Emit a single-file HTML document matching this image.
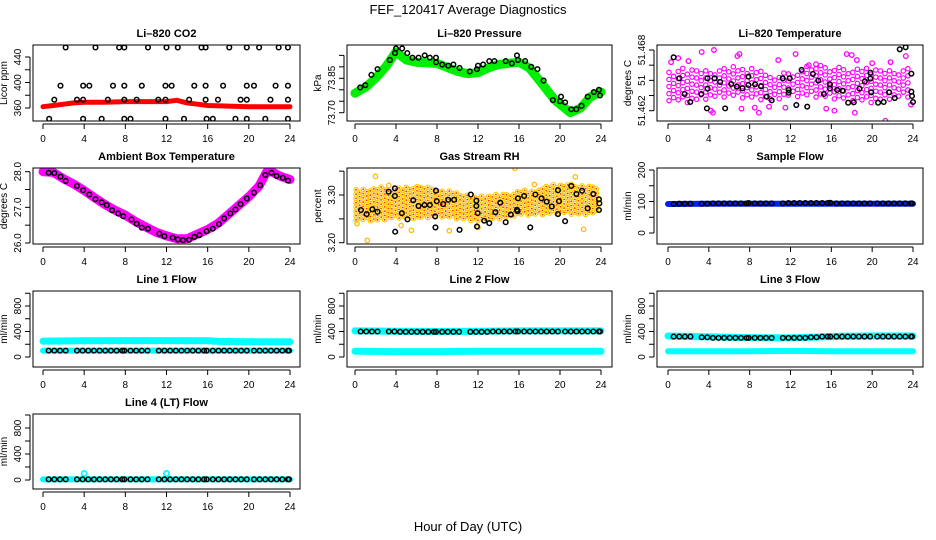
<!DOCTYPE html>
<html><head><meta charset="utf-8">
<style>
html,body{margin:0;padding:0;background:#fff;}
svg{display:block;font-family:"Liberation Sans",Arial,sans-serif;}
</style></head>
<body>
<svg id="chart" width="936" height="540" viewBox="0 0 936 540" xmlns="http://www.w3.org/2000/svg">
<text x="468" y="14" text-anchor="middle" font-size="13">FEF_120417  Average Diagnostics</text>
<text x="468" y="531" text-anchor="middle" font-size="13">Hour of Day (UTC)</text>
</svg>
<script>
// ---- data ----
const co2Hours=[2.2,5.1,7.4,7.9,10.2,12,13.1,15.4,15.8,18.1,19.8,21,22.9,23.8,1.7,3.9,4.5,6.8,7.9,9.6,11.9,12.5,14.7,15.8,17.5,19.8,20.5,22.6,23.8,1.1,3.3,3.9,6.3,7.9,9.1,11.2,11.9,14.2,15.8,17,19.2,19.8,22.1,23.8,0.6,3.9,5.7,7.9,8.5,11.9,13.7,15.9,16.5,18.7,19.8,21.6,23.8];
const co2Vals=[455,455,455,455,455,455,455,455,455,455,455,455,455,455,395,395,395,395,395,395,395,395,395,395,395,395,395,395,395,373,373,373,373,373,373,373,373,373,373,373,373,373,373,373,343,343,343,343,343,343,343,343,343,343,343,343,343];
const co2BandHours=[0,1,2,3,4,6,8,10,12,13,14,15,16,18,20,22,24];
const co2BandVals=[362,364,366,368,369,369,370,370,370,372,368,366,364,363,362,362,362];

const presHours=[0.5,1,1.6,2.2,3.4,3.9,4,4.6,5.1,5.6,6.2,6.8,7.3,7.9,7.9,8.5,9.1,9.6,10.2,11.2,11.9,12,12.5,13.1,13.6,14.7,15.3,15.8,15.9,16.6,17.2,17.8,18.4,19.3,20,20.1,20.5,21.1,21.6,22.1,22.7,23.3,23.8,23.9];
const presVals=[73.81,73.82,73.865,73.89,73.93,73.96,73.98,73.98,73.96,73.94,73.94,73.95,73.94,73.94,73.92,73.91,73.905,73.91,73.895,73.88,73.89,73.905,73.91,73.925,73.925,73.925,73.915,73.95,73.93,73.925,73.90,73.89,73.84,73.755,73.75,73.77,73.745,73.715,73.715,73.73,73.77,73.79,73.80,73.775];
const presBandHours=[0,1,2,3,4,5,6,8,10,11,12,13,14,16,17,18,19.5,21,22,23,24];
const presBandVals=[73.785,73.81,73.85,73.90,73.965,73.93,73.92,73.915,73.88,73.87,73.875,73.895,73.91,73.92,73.895,73.84,73.755,73.70,73.72,73.77,73.79];

const tempHours=[0.55,1.11,1.63,2.18,3.26,3.81,3.87,3.87,4.56,5.11,5.60,6.19,6.74,7.29,7.88,7.88,8.53,9.12,9.67,10.16,11.23,11.82,11.82,11.92,12.57,13.09,13.64,14.20,14.72,15.27,15.86,15.86,16.57,17.10,17.65,18.20,18.76,19.28,19.83,19.83,19.90,20.58,21.13,21.65,22.21,22.70,23.28,23.84,23.84,23.90,24.0];
const tempVals=[51.46728,51.4652,51.46365,51.46286,51.46365,51.46223,51.4652,51.46418,51.4652,51.46484,51.46223,51.46464,51.46438,51.46421,51.46537,51.46454,51.46461,51.46441,51.46339,51.46302,51.4652,51.46405,51.46378,51.4652,51.46256,51.46603,51.4624,51.46563,51.46497,51.46365,51.46461,51.46421,51.46405,51.46398,51.46279,51.46283,51.46418,51.4649,51.46517,51.46576,51.46382,51.46279,51.46286,51.46382,51.46325,51.46807,51.46827,51.46566,51.46388,51.46345,51.46286];
const tempEnvHours=[0,2,4,6,8,10,12,14,16,18,20,22,24];
const tempUpper=[51.4660,51.4663,51.4659,51.4664,51.4663,51.4656,51.4659,51.4665,51.4665,51.4663,51.4662,51.4660,51.4663];
const tempLower=[51.4630,51.4628,51.4632,51.4634,51.4632,51.4630,51.4634,51.4634,51.4632,51.4630,51.4628,51.4632,51.4634];
const tempOutHours=[1,2,3.3,4.5,6.8,7,4.2,4.4,7.2,8.5,8.9,11.5,12.5,17.5,18,18.3,21.3,23.3,21.8,23.8,15.5,16.3,18.5,20,9.9,13.8,14.5,0.3,10.8];
const tempOutVals=[51.4672,51.4669,51.4678,51.4680,51.4674,51.4676,51.4620,51.4618,51.4622,51.4623,51.4618,51.4623,51.4676,51.4676,51.4675,51.4618,51.4610,51.4674,51.4668,51.4626,51.4622,51.4620,51.4670,51.4667,51.4624,51.4665,51.4666,51.4668,51.4670];

const ambHours=[0.55,1.1,1.7,2.2,3.3,3.9,4.5,5.1,5.7,6.2,6.7,7.3,7.8,8.6,9.1,9.6,10.2,11.3,11.8,12.6,13.1,13.6,14.2,14.7,15.2,15.9,16.5,17.1,17.6,18.2,18.7,19.2,19.8,20.5,21.1,21.6,22.2,22.7,23.3,23.8];
const ambVals=[27.97,27.96,27.86,27.74,27.6,27.48,27.36,27.23,27.14,27.06,26.92,26.83,26.75,26.66,26.54,26.43,26.4,26.26,26.19,26.15,26.1,26.08,26.09,26.17,26.22,26.33,26.4,26.53,26.69,26.83,26.94,27.09,27.25,27.41,27.62,27.91,27.97,27.88,27.83,27.75];
const ambBandHours=[0,1,2,3,4,5,6,7,8,9,10,11,12,13,14,15,16,17,18,19,20,21,21.7,22.2,23,24];
const ambBandVals=[28.0,27.98,27.8,27.65,27.47,27.27,27.08,26.92,26.78,26.6,26.45,26.3,26.2,26.12,26.12,26.25,26.38,26.55,26.8,27.05,27.3,27.6,27.98,28.0,27.88,27.78];

const rhHours=[0.58,1.14,1.69,2.2,3.28,3.89,3.89,3.92,4.57,5.12,5.68,6.2,6.78,7.3,7.82,7.85,7.9,7.98,8.6,9.1,9.67,10.2,11.3,11.84,11.84,11.9,11.97,12.6,13.1,13.7,14.17,14.7,15.2,15.8,15.86,15.9,16.5,17.1,17.6,18.2,18.7,19.2,19.8,19.8,19.9,20.5,21.1,21.6,22.15,22.7,23.25,23.8,23.8,23.84];
const rhVals=[3.2685,3.26,3.27,3.265,3.307,3.314,3.298,3.223,3.262,3.249,3.289,3.277,3.279,3.279,3.255,3.232,3.309,3.287,3.281,3.29,3.29,3.227,3.301,3.288,3.277,3.234,3.262,3.246,3.241,3.264,3.284,3.243,3.259,3.269,3.266,3.293,3.298,3.232,3.301,3.293,3.286,3.276,3.26,3.31,3.287,3.245,3.319,3.302,3.309,3.272,3.302,3.2685,3.291,3.2825];
const rhEnvHours=[0,2,4,6,8,10,12,14,16,18,20,22,24];
const rhUpper=[3.312,3.318,3.315,3.318,3.315,3.305,3.298,3.302,3.308,3.315,3.325,3.322,3.318];
const rhLower=[3.248,3.245,3.252,3.250,3.255,3.250,3.245,3.250,3.258,3.258,3.262,3.258,3.262];
const rhOutHours=[2,1.2,4.5,5.5,9.2,12,15.6,21.5,22.3,3.3,17.5,0.2];
const rhOutVals=[3.339,3.205,3.236,3.226,3.225,3.232,3.356,3.338,3.228,3.320,3.322,3.240];

const flowHours=[0.55,1.1,1.65,2.2,3.3,3.85,4.4,4.95,5.5,6.05,6.6,7.15,7.7,7.9,8.5,9.05,9.6,10.15,11.25,11.8,12.35,12.9,13.45,14,14.55,15.1,15.65,15.9,16.5,17.05,17.6,18.15,18.7,19.25,19.8,20.5,21.05,21.6,22.15,22.7,23.25,23.8,23.9];
const sampleVals=[92,93,93,93,93,93,94,94,94,94,94,94,94,95,94,94,94,94,94,95,95,95,95,95,95,95,95,96,94,94,94,94,94,94,94,94,94,94,94,94,94,94,94];
const line1Vals=[100,100,100,100,100,100,100,100,100,100,100,100,100,100,100,100,100,100,100,100,100,100,100,100,100,100,100,100,100,100,100,100,100,100,100,100,100,100,100,100,100,100,100];
const line2Vals=[400,400,400,400,400,400,395,395,395,395,395,395,395,395,395,395,395,395,395,395,395,395,400,400,400,400,400,400,400,400,400,400,400,400,400,400,400,400,400,400,400,400,400];
const line3Vals=[320,320,320,320,310,310,300,300,300,300,300,300,300,300,300,300,300,300,300,300,300,300,300,310,310,320,320,320,320,320,320,320,320,320,320,320,320,320,320,320,320,320,320];
const line4Vals=[10,10,10,10,10,10,10,10,10,10,10,10,10,10,10,10,10,10,10,10,10,10,10,10,10,10,10,10,10,10,10,10,10,10,10,10,10,10,10,10,10,10,10];
const bandHours=[0,4,8,12,16,17,20,24];
const sampleBand=[92,93,93,93,93,93,93,93];
const line1Upper=[250,255,258,258,255,245,240,240];
const line1Lower=[100,100,100,100,100,100,100,100];
const line2Upper=[410,405,400,405,410,410,410,410];
const line2Lower=[90,85,85,90,90,90,90,90];
const line3Upper=[330,315,305,300,320,325,330,330];
const line3Lower=[90,90,90,95,90,90,90,90];
const line4Band=[10,10,10,10,10,10,10,10];
const line4OutHours=[4,12];
const line4OutVals=[100,100];

// ---- layout ----
const NS="http://www.w3.org/2000/svg";
const svg=document.getElementById('chart');
const COLS=[{x0:33,x1:300,h0:43,h24:290},{x0:347,x1:612,h0:355,h24:601},{x0:657,x1:923,h0:668,h24:913}];
const ROWS=[{y0:45,y1:121},{y0:168,y1:244},{y0:291,y1:367},{y0:414,y1:489}];
function mk(tag,attrs,parent){const e=document.createElementNS(NS,tag);for(const k in attrs)e.setAttribute(k,attrs[k]);(parent||svg).appendChild(e);return e;}
function interp(xs,ys,x){if(x<=xs[0])return ys[0];for(let i=1;i<xs.length;i++){if(x<=xs[i]){const t=(x-xs[i-1])/(xs[i]-xs[i-1]);return ys[i-1]+t*(ys[i]-ys[i-1]);}}return ys[ys.length-1];}

function panel(cfg){
  const c=COLS[cfg.col],r=ROWS[cfg.row];
  const g=mk('g',{});
  
  
  const xs=h=>c.h0+(c.h24-c.h0)*h/24;
  const [v1,p1,v2,p2]=cfg.ref;
  const ys=v=>p1+(v-v1)*(p2-p1)/(v2-v1);
  const clip='clip'+cfg.name;
  const cp=mk('clipPath',{id:clip},g);mk('rect',{x:c.x0,y:r.y0,width:c.x1-c.x0,height:r.y1-r.y0},cp);
  const pg=mk('g',{'clip-path':'url(#'+clip+')'},g);
  cfg.draw(pg,xs,ys);
  const box=mk('rect',{x:c.x0,y:r.y0,width:c.x1-c.x0,height:r.y1-r.y0,fill:'none',stroke:'#000','stroke-width':1},g);
  
  
  const t=mk('text',{x:(c.x0+c.x1)/2,y:r.y0-8,'text-anchor':'middle','font-size':11,'font-weight':'bold'},g);
  t.textContent=cfg.title;
  
  
  const xa=mk('g',{},g);
  
  
  mk('line',{x1:xs(0),x2:xs(24),y1:r.y1+3,y2:r.y1+3,stroke:'#000'},xa);
  for(let h=0;h<=24;h+=4){
    mk('line',{x1:xs(h),x2:xs(h),y1:r.y1+3,y2:r.y1+8,stroke:'#000'},xa);
    const l=mk('text',{x:xs(h),y:r.y1+21,'text-anchor':'middle','font-size':10},xa);l.textContent=h;
  }
  const ya=mk('g',{},g);
  
  
  const tk=cfg.ticks;
  mk('line',{x1:c.x0-3,x2:c.x0-3,y1:ys(tk[0]),y2:ys(tk[tk.length-1]),stroke:'#000'},ya);
  tk.forEach(v=>{mk('line',{x1:c.x0-8,x2:c.x0-3,y1:ys(v),y2:ys(v),stroke:'#000'},ya);});
  cfg.labels.forEach(([v,s])=>{
    const y=ys(v),x=c.x0-12;
    const l=mk('text',{x:x,y:y,'text-anchor':'middle','font-size':10,transform:'rotate(-90 '+x+' '+y+')'},ya);l.textContent=s;
  });
  const yt=mk('text',{x:c.x0-26,y:(r.y0+r.y1)/2,'text-anchor':'middle','font-size':10,transform:'rotate(-90 '+(c.x0-26)+' '+((r.y0+r.y1)/2)+')'},g);
  yt.textContent=cfg.ylab;
  
  
}
function band(g,xs,ys,hs,vs,color,w,name){
  const pts=hs.map((h,i)=>xs(h).toFixed(1)+','+ys(vs[i]).toFixed(1)).join(' ');
  const p=mk('polyline',{points:pts,fill:'none',stroke:color,'stroke-width':w,'stroke-linejoin':'round','stroke-linecap':'round'},g);
  
  
}
function points(g,xs,ys,hs,vs,color,name,r,sw){
  const pg=mk('g',{},g);
  
  
  hs.forEach((h,i)=>{mk('circle',{cx:xs(h),cy:ys(vs[i]),r:r||2.6,fill:'none',stroke:color,'stroke-width':sw||1.6},pg);});
}
function cloud(g,xs,ys,eh,up,lo,dh,dv,stroke,dot,name){
  const pg=mk('g',{},g);
  
  
  let k=0;
  for(let h=0.1;h<=23.9;h+=dh){
    const u=interp(eh,up,h),l=interp(eh,lo,h);
    const off=[0,0.5,0.25,0.75][k%4]*dv;k++;
    for(let v=l+off;v<=u;v+=dv){
      mk('circle',{cx:xs(h),cy:ys(v),r:2.2,fill:'none',stroke:stroke,'stroke-width':1.2},pg);
      if(dot)mk('circle',{cx:xs(h),cy:ys(v),r:0.9,fill:dot},pg);
    }
  }
}

panel({name:'co2',title:'Li\u2013820 CO2',col:0,row:0,ylab:'Licor ppm',ref:[360,108,440,57],ticks:[360,380,400,420,440],labels:[[360,'360'],[400,'400'],[440,'440']],
  draw:(g,xs,ys)=>{band(g,xs,ys,co2BandHours,co2BandVals,'#ff0000',5,'co2-band');points(g,xs,ys,co2Hours,co2Vals,'#000','co2-points',2.3,1.5);}});
panel({name:'pressure',title:'Li\u2013820 Pressure',col:1,row:0,ylab:'kPa',ref:[73.70,112.7,73.85,78.3],ticks:[73.70,73.75,73.80,73.85,73.90,73.95],labels:[[73.70,'73.70'],[73.85,'73.85']],
  draw:(g,xs,ys)=>{band(g,xs,ys,presBandHours,presBandVals,'#00ee00',9,'pressure-band');points(g,xs,ys,presHours,presVals,'#000','pressure-points',2.3,1.5);}});
panel({name:'li820-temp',title:'Li\u2013820 Temperature',col:2,row:0,ylab:'degrees C',ref:[51.462,110.7,51.468,50],ticks:[51.462,51.4635,51.465,51.4665,51.468],labels:[[51.462,'51.462'],[51.465,'51'],[51.468,'51.468']],
  draw:(g,xs,ys)=>{cloud(g,xs,ys,tempEnvHours,tempUpper,tempLower,0.45,0.0007,'#ff00ff',null,'li820-temp-cloud');points(g,xs,ys,tempOutHours,tempOutVals,'#ff00ff','li820-temp-outliers',2.3,1.3);points(g,xs,ys,tempHours,tempVals,'#000','li820-temp-points',2.3,1.5);}});
panel({name:'ambient-temp',title:'Ambient Box Temperature',col:0,row:1,ylab:'degrees C',ref:[26,243,28,171.7],ticks:[26,26.5,27,27.5,28],labels:[[26,'26.0'],[27,'27.0'],[28,'28.0']],
  draw:(g,xs,ys)=>{band(g,xs,ys,ambBandHours,ambBandVals,'#ff00ff',9,'ambient-temp-band');points(g,xs,ys,ambHours,ambVals,'#000','ambient-temp-points',2.3,1.5);}});
panel({name:'gas-rh',title:'Gas Stream RH',col:1,row:1,ylab:'percent',ref:[3.20,242.7,3.30,195],ticks:[3.20,3.25,3.30,3.35],labels:[[3.20,'3.20'],[3.30,'3.30']],
  draw:(g,xs,ys)=>{cloud(g,xs,ys,rhEnvHours,rhUpper,rhLower,0.35,0.009,'#ffcc00','#ee3300','gas-rh-cloud');points(g,xs,ys,rhOutHours,rhOutVals,'#ffbb00','gas-rh-outliers',2.2,1.3);points(g,xs,ys,rhHours,rhVals,'#000','gas-rh-points',2.3,1.5);}});
panel({name:'sample-flow',title:'Sample Flow',col:2,row:1,ylab:'ml/min',ref:[0,233,200,170],ticks:[0,50,100,150,200],labels:[[0,'0'],[100,'100'],[200,'200']],
  draw:(g,xs,ys)=>{band(g,xs,ys,bandHours,sampleBand,'#0022ee',6,'sample-flow-band');points(g,xs,ys,flowHours,sampleVals,'#000','sample-flow-points',2.3,1.5);}});
const flowTicks=[0,200,400,600,800,1000],flowLabels=[[0,'0'],[400,'400'],[800,'800']];
panel({name:'line1-flow',title:'Line 1 Flow',col:0,row:2,ylab:'ml/min',ref:[0,357,800,306],ticks:flowTicks,labels:flowLabels,
  draw:(g,xs,ys)=>{band(g,xs,ys,bandHours,line1Upper,'#00ffff',7,'line1-upper-band');band(g,xs,ys,bandHours,line1Lower,'#00ffff',6,'line1-lower-band');points(g,xs,ys,flowHours,line1Vals,'#000','line1-points',2.3,1.5);}});
panel({name:'line2-flow',title:'Line 2 Flow',col:1,row:2,ylab:'ml/min',ref:[0,357,800,306],ticks:flowTicks,labels:flowLabels,
  draw:(g,xs,ys)=>{band(g,xs,ys,bandHours,line2Upper,'#00ffff',7,'line2-upper-band');band(g,xs,ys,bandHours,line2Lower,'#00ffff',7,'line2-lower-band');points(g,xs,ys,flowHours,line2Vals,'#000','line2-points',2.3,1.5);}});
panel({name:'line3-flow',title:'Line 3 Flow',col:2,row:2,ylab:'ml/min',ref:[0,357,800,306],ticks:flowTicks,labels:flowLabels,
  draw:(g,xs,ys)=>{band(g,xs,ys,bandHours,line3Upper,'#00ffff',7,'line3-upper-band');band(g,xs,ys,bandHours,line3Lower,'#00ffff',6,'line3-lower-band');points(g,xs,ys,flowHours,line3Vals,'#000','line3-points',2.3,1.5);}});
panel({name:'line4-flow',title:'Line 4 (LT) Flow',col:0,row:3,ylab:'ml/min',ref:[0,480,800,428],ticks:flowTicks,labels:flowLabels,
  draw:(g,xs,ys)=>{band(g,xs,ys,bandHours,line4Band,'#00ffff',6,'line4-band');points(g,xs,ys,line4OutHours,line4OutVals,'#00ffff','line4-outliers',2.6,1.8);points(g,xs,ys,flowHours,line4Vals,'#000','line4-points',2.3,1.5);}});
</script>
</body></html>
